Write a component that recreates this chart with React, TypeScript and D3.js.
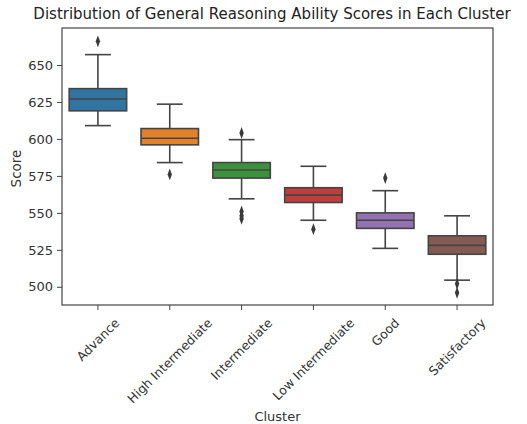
import React, { useEffect, useRef } from "react";
import * as d3 from "d3";

const clusters = ["Advance", "High Intermediate", "Intermediate", "Low Intermediate", "Good", "Satisfactory"];
const whiskerLow = [609, 584, 559.5, 545, 526, 504.5];
const q1 = [619, 596, 573.5, 557, 539.5, 522];
const median = [627, 600.5, 579, 562, 545, 528];
const q3 = [634, 607, 584, 567, 550, 534.5];
const whiskerHigh = [657, 623.5, 599.5, 581.5, 565, 548];
const outliers = [[666], [576], [604, 551, 548, 546], [539], [573.5], [502, 496]];
const colors = ["#3274a1", "#e1812c", "#3a923a", "#c03d3e", "#9372b2", "#845b53"];
const yTicks = [500, 525, 550, 575, 600, 625, 650];

const W = 527;
const H = 424;
const margin = { left: 62, right: 34, top: 28, bottom: 119 };
const FONT = "DejaVu Sans, sans-serif";
const LINE = "#444444";

export default function App() {
  const ref = useRef<SVGSVGElement>(null);

  useEffect(() => {
    const svg = d3.select(ref.current);
    svg.selectAll("*").remove();

    const x = d3.scaleBand().domain(clusters).range([margin.left, W - margin.right]).paddingInner(0).paddingOuter(0);
    const y = d3.scaleLinear().domain([487.7, 675]).range([H - margin.bottom, margin.top]);
    const bw = x.bandwidth() * 0.8;
    const cw = bw * 0.45;

    const g = svg.append("g");

    const box = g.selectAll("g.box")
      .data(clusters)
      .join("g")
      .attr("class", "box");

    const cx = (d: string) => x(d)! + x.bandwidth() / 2;

    // whiskers
    box.append("line")
      .attr("x1", cx).attr("x2", cx)
      .attr("y1", (d, i) => y(whiskerHigh[i])).attr("y2", (d, i) => y(q3[i]))
      .attr("stroke", LINE).attr("stroke-width", 1.6);
    box.append("line")
      .attr("x1", cx).attr("x2", cx)
      .attr("y1", (d, i) => y(q1[i])).attr("y2", (d, i) => y(whiskerLow[i]))
      .attr("stroke", LINE).attr("stroke-width", 1.6);
    // caps
    for (const arr of [whiskerHigh, whiskerLow]) {
      box.append("line")
        .attr("x1", d => cx(d) - cw / 2).attr("x2", d => cx(d) + cw / 2)
        .attr("y1", (d, i) => y(arr[i])).attr("y2", (d, i) => y(arr[i]))
        .attr("stroke", LINE).attr("stroke-width", 1.6);
    }
    // boxes
    box.append("rect")
      .attr("x", d => cx(d) - bw / 2)
      .attr("width", bw)
      .attr("y", (d, i) => y(q3[i]))
      .attr("height", (d, i) => y(q1[i]) - y(q3[i]))
      .attr("fill", (d, i) => colors[i])
      .attr("stroke", LINE).attr("stroke-width", 1.6);
    // medians
    box.append("line")
      .attr("x1", d => cx(d) - bw / 2).attr("x2", d => cx(d) + bw / 2)
      .attr("y1", (d, i) => y(median[i])).attr("y2", (d, i) => y(median[i]))
      .attr("stroke", LINE).attr("stroke-width", 1.6);
    // outliers
    const diamond = d3.symbol().type(d3.symbolDiamond).size(26);
    box.selectAll("path.out")
      .data((d, i) => outliers[i].map(v => ({ c: d, v })))
      .join("path")
      .attr("class", "out")
      .attr("d", diamond)
      .attr("transform", p => `translate(${cx(p.c)},${y(p.v)}) scale(0.8,1.25)`)
      .attr("fill", "#3a3a3a");

    // frame
    svg.append("rect")
      .attr("x", margin.left).attr("y", margin.top)
      .attr("width", W - margin.left - margin.right)
      .attr("height", H - margin.top - margin.bottom)
      .attr("fill", "none").attr("stroke", "#444").attr("stroke-width", 1.2);

    // y axis
    const yAxis = svg.append("g")
      .attr("transform", `translate(${margin.left},0)`)
      .call(d3.axisLeft(y).tickValues(yTicks).tickSize(5).tickPadding(4));
    yAxis.select(".domain").remove();
    yAxis.selectAll("line").attr("stroke", "#444");
    yAxis.selectAll("text").attr("font-family", FONT).attr("font-size", 13).attr("fill", "#333");

    // x axis
    const xAxis = svg.append("g")
      .attr("transform", `translate(0,${H - margin.bottom})`)
      .call(d3.axisBottom(x).tickSize(5).tickFormat(() => ""));
    xAxis.select(".domain").remove();
    xAxis.selectAll("line").attr("stroke", "#444");

    const top = H - margin.bottom + 11;
    const labels = svg.append("g").selectAll("text")
      .data(clusters)
      .join("text")
      .attr("font-family", FONT)
      .attr("font-size", 12.5)
      .attr("fill", "#333")
      .attr("text-anchor", "middle")
      .attr("dominant-baseline", "central")
      .text(d => d);
    labels.attr("transform", function (d) {
      const w = (this as SVGTextElement).getComputedTextLength();
      const off = (w + 13) / (2 * Math.SQRT2);
      return `translate(${cx(d)},${top + off}) rotate(-45)`;
    });

    svg.append("text")
      .attr("x", (margin.left + W - margin.right) / 2)
      .attr("y", 421)
      .attr("text-anchor", "middle")
      .attr("font-family", FONT).attr("font-size", 13).attr("fill", "#333")
      .text("Cluster");

    svg.append("text")
      .attr("transform", `translate(21,${(margin.top + H - margin.bottom) / 2 + 2}) rotate(-90)`)
      .attr("text-anchor", "middle")
      .attr("font-family", FONT).attr("font-size", 13.5).attr("fill", "#333")
      .text("Score");

    svg.append("text")
      .attr("x", 272)
      .attr("y", 19)
      .attr("text-anchor", "middle")
      .attr("font-family", FONT).attr("font-size", 15).attr("fill", "#222")
      .text("Distribution of General Reasoning Ability Scores in Each Cluster");
  }, []);

  return (
    <svg ref={ref} width={W} height={H}
      style={{ position: "absolute", left: 0, top: 0, background: "#fff" }} />
  );
}
